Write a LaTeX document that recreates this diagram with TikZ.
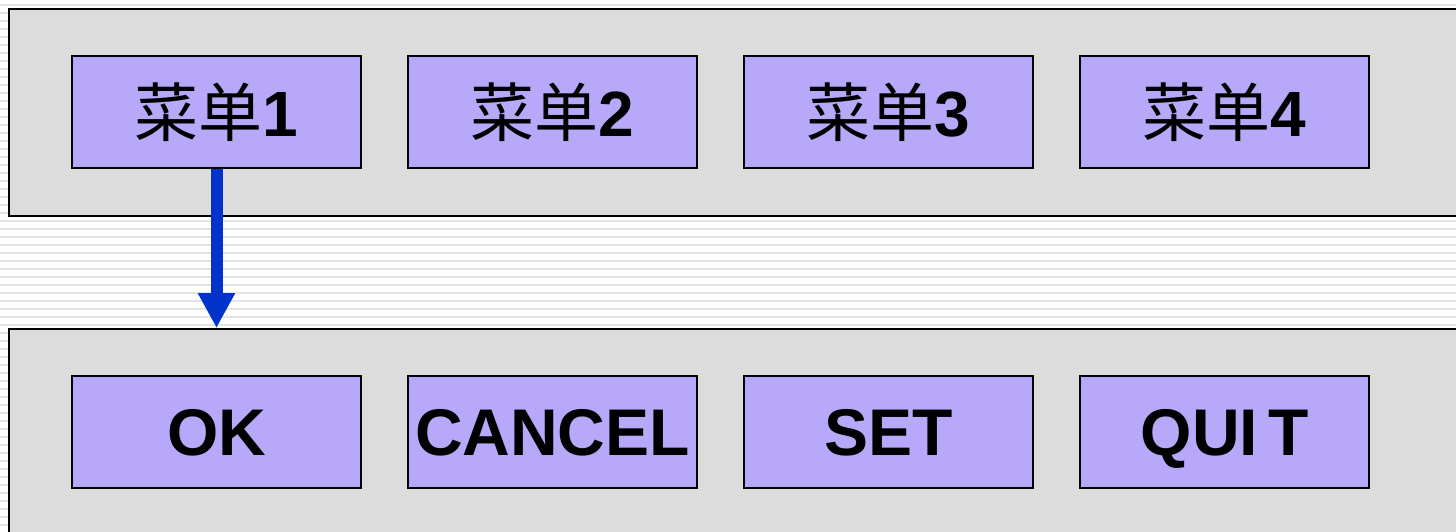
\documentclass[tikz,border=0pt]{standalone}
\usepackage{fontspec}
\setmainfont{Liberation Sans}
\newfontfamily\cjk{Noto Sans CJK SC}
\usetikzlibrary{arrows.meta}
\definecolor{panelgray}{HTML}{DCDCDC}
\definecolor{stripegray}{HTML}{E4E4E4}
\definecolor{btnfill}{HTML}{B8A8FA}
\definecolor{arrowblue}{HTML}{0033CC}
\tikzset{
  panel/.style={draw=black, line width=2.4pt, fill=panelgray, anchor=north west, inner sep=0pt},
  btn/.style={draw=black, line width=1.8pt, fill=btnfill, minimum width=289pt, minimum height=112pt, inner sep=0pt},
  menutext/.style={font=\fontsize{64}{70}\selectfont\bfseries},
  btntext/.style={font=\fontsize{66}{72}\selectfont\bfseries, text height=47pt, text depth=0pt},
  flow/.style={draw=arrowblue, line width=12pt, -{Triangle[width=35pt,length=35pt]}, arrowblue}
}
\begin{document}
\begin{tikzpicture}[x=1pt,y=-1pt]
\useasboundingbox (0,0) rectangle (1456,532);
\clip (0,0) rectangle (1456,532);
\fill[white] (0,0) rectangle (1456,532);
\foreach \k in {0,...,66} {
  \fill[stripegray] (0,8*\k+4) rectangle (1456,8*\k+6);
}
\node[panel, minimum width=1470pt, minimum height=207pt] (p1) at (8,8) {};
\node[panel, minimum width=1470pt, minimum height=230pt] (p2) at (8,328) {};
\node[btn, menutext] (m1) at (216.5,112) {{\cjk\mdseries 菜单}1};
\node[btn, menutext] (m2) at (552.5,112) {{\cjk\mdseries 菜单}2};
\node[btn, menutext] (m3) at (888.5,112) {{\cjk\mdseries 菜单}3};
\node[btn, menutext] (m4) at (1224.5,112) {{\cjk\mdseries 菜单}4};
\node[btn, btntext] (b1) at (216.5,432) {OK};
\node[btn, btntext] (b2) at (552.5,432) {CANCEL};
\node[btn, btntext] (b3) at (888.5,432) {SET};
\node[btn, btntext] (b4) at (1224.5,432) {QUI\kern10pt T};
\draw[flow] (m1.south) -- (m1.south |- p2.north);
\end{tikzpicture}
\end{document}
